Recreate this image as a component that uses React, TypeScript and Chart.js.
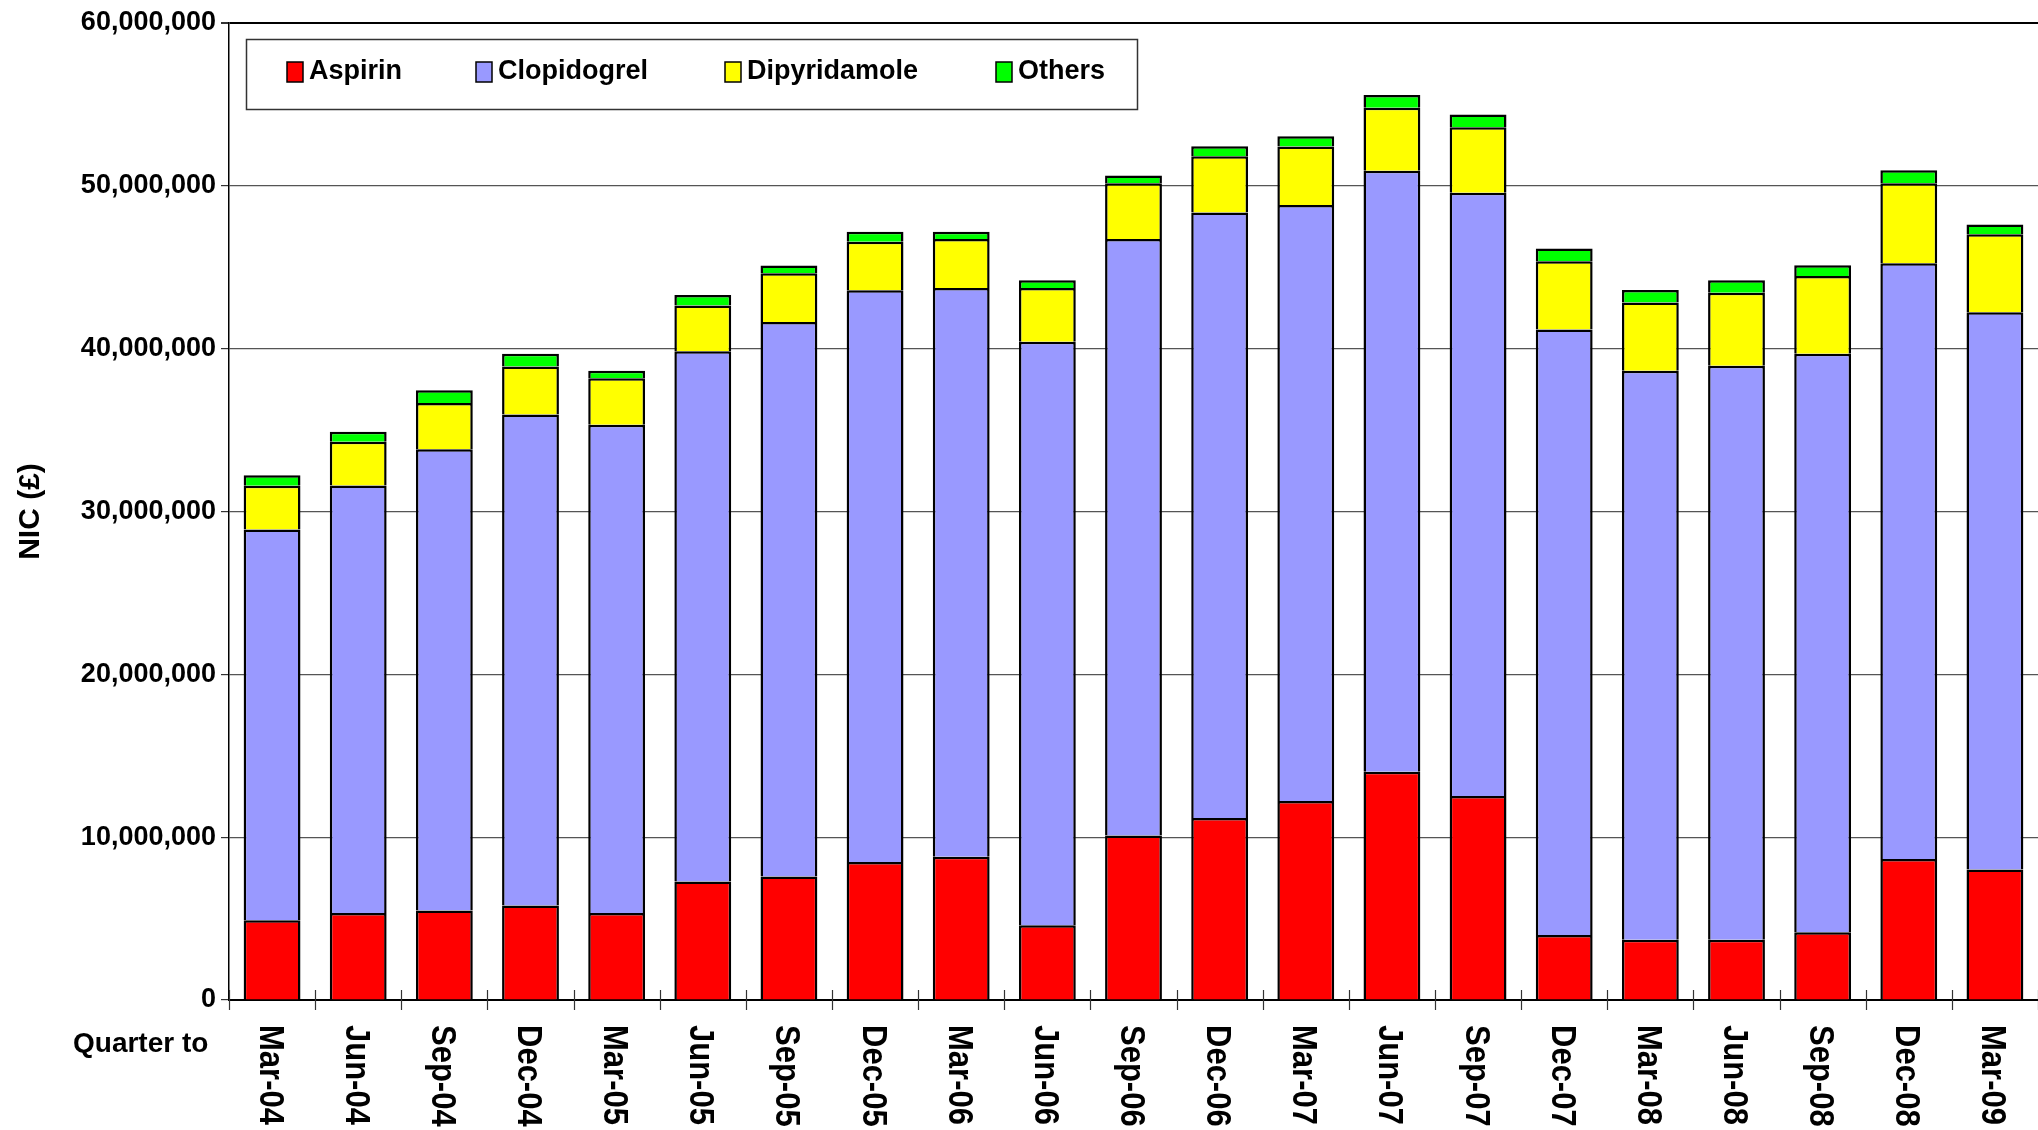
import React, { useEffect, useRef } from "react";
import { Chart, registerables } from "chart.js";

Chart.register(...registerables);

const quarters = [
  "Mar-04", "Jun-04", "Sep-04", "Dec-04", "Mar-05", "Jun-05", "Sep-05",
  "Dec-05", "Mar-06", "Jun-06", "Sep-06", "Dec-06", "Mar-07", "Jun-07",
  "Sep-07", "Dec-07", "Mar-08", "Jun-08", "Sep-08", "Dec-08", "Mar-09",
];

const aspirin = [
  4900000, 5350000, 5490000, 5800000, 5350000, 7280000, 7590000, 8480000,
  8790000, 4590000, 10110000, 11170000, 12220000, 14010000, 12530000,
  3990000, 3700000, 3700000, 4160000, 8660000, 8020000,
];

const clopidogrel = [
  23990000, 26250000, 28340000, 30150000, 29980000, 32560000, 34040000,
  35100000, 34930000, 35840000, 36620000, 37200000, 36610000, 36920000,
  37040000, 37180000, 34940000, 35250000, 35530000, 36590000, 34220000,
];

const dipyridamole = [
  2690000, 2680000, 2840000, 2960000, 2860000, 2810000, 3000000, 2980000,
  3010000, 3290000, 3430000, 3440000, 3580000, 3860000, 4030000, 4200000,
  4200000, 4490000, 4780000, 4910000, 4780000,
];

const others = [
  640000, 620000, 780000, 780000, 450000, 640000, 470000, 620000, 450000,
  480000, 480000, 620000, 640000, 790000, 780000, 780000, 760000, 760000,
  650000, 790000, 610000,
];

const seriesNames = ["Aspirin", "Clopidogrel", "Dipyridamole", "Others"];
const seriesColors = ["#FF0000", "#9999FF", "#FFFF00", "#00FF00"];
const yMax = 60000000;
const yStep = 10000000;
const yTitle = "NIC (£)";
const xTitle = "Quarter to";

const FONT = "'Liberation Sans', Arial, Helvetica, sans-serif";

const decorPlugin = {
  id: "decor",
  afterDraw(chart: any) {
    const { ctx, chartArea } = chart;
    const xs = chart.scales.x;
    const labels: string[] = chart.data.labels;
    const n = labels.length;
    const half = (xs.getPixelForValue(1) - xs.getPixelForValue(0)) / 2;
    ctx.save();

    // x-axis tick marks crossing the axis at category boundaries
    ctx.strokeStyle = "#333";
    ctx.lineWidth = 1.2;
    for (let i = 0; i <= n; i++) {
      const px = Math.round(xs.getPixelForValue(i) - half) + 0.5;
      ctx.beginPath();
      ctx.moveTo(px, chartArea.bottom - 10);
      ctx.lineTo(px, chartArea.bottom + 10);
      ctx.stroke();
    }

    // rotated category labels (reading top to bottom)
    const fs = 31;
    ctx.fillStyle = "#000";
    ctx.font = `bold ${fs}px ${FONT}`;
    ctx.textAlign = "left";
    ctx.textBaseline = "alphabetic";
    labels.forEach((lab, i) => {
      const px = xs.getPixelForValue(i);
      ctx.save();
      ctx.translate(px, chartArea.bottom + 25);
      ctx.rotate(Math.PI / 2);
      ctx.scale(1, 1.12);
      ctx.fillText(lab, 0, (fs * 0.716) / 2);
      ctx.restore();
    });

    // "Quarter to"
    ctx.font = `bold 28px ${FONT}`;
    ctx.textBaseline = "middle";
    ctx.textAlign = "left";
    ctx.fillText(xTitle, chartArea.left - 156, chartArea.bottom + 44);

    // legend box
    const box = { x: 246, y: 39, w: 891, h: 70 };
    ctx.fillStyle = "#fff";
    ctx.fillRect(box.x, box.y, box.w, box.h);
    ctx.strokeStyle = "#333";
    ctx.lineWidth = 1.5;
    ctx.strokeRect(box.x + 0.5, box.y + 0.5, box.w, box.h);
    const itemX = [287, 476, 725, 996];
    const cy = box.y + 33;
    ctx.font = `bold 27px ${FONT}`;
    chart.data.datasets.forEach((ds: any, i: number) => {
      const sx = itemX[i];
      ctx.fillStyle = ds.backgroundColor;
      ctx.fillRect(sx, cy - 10, 16, 20);
      ctx.strokeStyle = "#000";
      ctx.lineWidth = 1.5;
      ctx.strokeRect(sx, cy - 10, 16, 20);
      ctx.fillStyle = "#000";
      ctx.textBaseline = "middle";
      ctx.fillText(ds.label, sx + 22, cy);
    });

    ctx.restore();
  },
};

export default function App() {
  const canvasRef = useRef<HTMLCanvasElement | null>(null);

  useEffect(() => {
    const canvas = canvasRef.current;
    if (!canvas) return;
    const seriesValues = [aspirin, clopidogrel, dipyridamole, others];
    const chart = new Chart(canvas, {
      type: "bar",
      data: {
        labels: quarters,
        datasets: seriesNames.map((name, i) => ({
          label: name,
          data: seriesValues[i],
          backgroundColor: seriesColors[i],
          borderColor: "#000",
          borderWidth: 2.5,
          borderSkipped: "start",
          barPercentage: 0.66,
          categoryPercentage: 1,
        })),
      },
      options: {
        responsive: false,
        maintainAspectRatio: false,
        devicePixelRatio: 1,
        animation: false,
        layout: { padding: { top: 23, left: 0, right: 0, bottom: 0 } },
        plugins: {
          legend: { display: false },
          tooltip: { enabled: false },
        },
        scales: {
          x: {
            stacked: true,
            offset: true,
            afterFit: (s: any) => {
              s.height = 130;
            },
            ticks: { display: false },
            grid: { display: false },
            border: { display: true, color: "#000", width: 2 },
          },
          y: {
            stacked: true,
            min: 0,
            max: yMax,
            afterFit: (s: any) => {
              s.width = 229;
            },
            ticks: {
              stepSize: yStep,
              color: "#000",
              padding: 5,
              font: { family: FONT, size: 27, weight: "bold", lineHeight: 1 },
              callback: (v: any) => Number(v).toLocaleString("en-US"),
            },
            grid: {
              color: (c: any) =>
                c.tick && c.tick.value === yMax ? "#000" : "#555",
              lineWidth: (c: any) =>
                c.tick && c.tick.value === yMax ? 2 : 1.2,
              tickLength: 8,
              tickColor: "#333",
              drawTicks: true,
            },
            border: { display: true, color: "#000", width: 1.5 },
            title: {
              display: true,
              text: yTitle,
              color: "#000",
              font: { family: FONT, size: 30, weight: "bold", lineHeight: 1.2 },
              padding: { top: 13, bottom: 0 },
            },
          },
        },
      },
      plugins: [decorPlugin],
    } as any);
    return () => chart.destroy();
  }, []);

  return (
    <div
      style={{
        position: "fixed",
        left: 0,
        top: 0,
        width: 2038,
        height: 1130,
        background: "#fff",
      }}
    >
      <canvas
        ref={canvasRef}
        width={2038}
        height={1130}
        style={{ display: "block", width: 2038, height: 1130 }}
      />
    </div>
  );
}
